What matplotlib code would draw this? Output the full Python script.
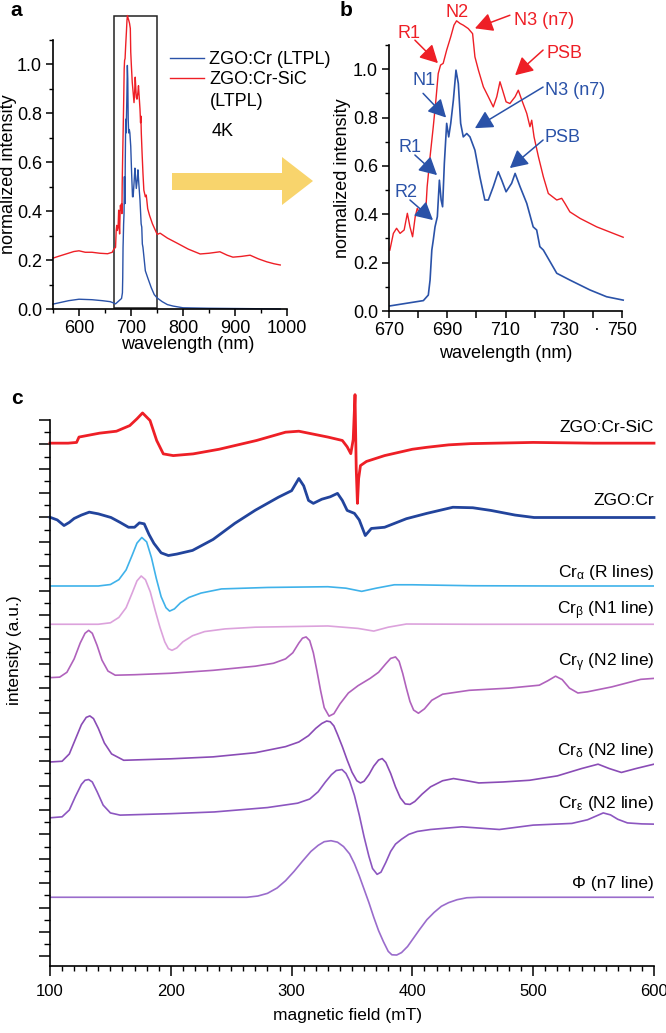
import matplotlib
matplotlib.use("Agg")
import matplotlib.pyplot as plt
from matplotlib.patches import Polygon, Rectangle
from matplotlib.ticker import MultipleLocator, FixedLocator

plt.rcParams['font.family'] = ['Liberation Sans', 'DejaVu Sans']
plt.rcParams['mathtext.fontset'] = 'custom'
plt.rcParams['mathtext.rm'] = 'Liberation Sans'
plt.rcParams['mathtext.it'] = 'Liberation Sans'
plt.rcParams['axes.linewidth'] = 1.2

# ---- panel a / b: low temperature PL spectra (normalized) ----
red_wl = [550, 560, 575, 590, 600, 612, 625, 640, 655, 664, 667,
          670.3, 671.5, 672.6, 673.8, 675.2, 676.3, 677.2, 678.1, 679.0, 679.7, 680.6, 681.8, 682.5,
          683.1, 684.1, 685.2, 686.1, 686.9, 687.7, 688.6, 689.8, 691.2, 692.3, 693.2, 694.4, 695.5,
          697.2, 698.7, 699.5, 700.7, 702.4, 704.1, 705.8, 707.0, 708.1, 709.0, 710.2, 711.5, 713.3,
          714.4, 715.6, 717.3, 718.4, 719.0, 719.8, 721.3, 723.0, 724.7, 726.2, 727.6, 729.3, 730.4,
          732.1, 735.6, 741.3, 747.0, 750.4,
          756, 770, 788, 810, 833, 850, 871, 885, 896, 912, 929, 945, 961, 975, 987]
red_int = [0.208, 0.215, 0.225, 0.235, 0.238, 0.232, 0.232, 0.228, 0.226, 0.232, 0.245,
           0.252, 0.321, 0.342, 0.321, 0.335, 0.404, 0.348, 0.307, 0.390, 0.424, 0.404, 0.431, 0.390,
           0.514, 0.638, 0.762, 0.872, 0.982, 1.017, 1.024, 1.079, 1.134, 1.182, 1.200, 1.189, 1.182,
           1.168, 1.147, 1.051, 0.996, 0.927, 0.886, 0.844, 0.886, 0.948, 0.913, 0.865, 0.858, 0.886,
           0.913, 0.872, 0.817, 0.762, 0.789, 0.720, 0.638, 0.555, 0.486, 0.472, 0.459, 0.466, 0.445,
           0.410, 0.383, 0.348, 0.321, 0.305,
           0.310, 0.290, 0.270, 0.245, 0.225, 0.228, 0.234, 0.220, 0.212, 0.215, 0.220, 0.205, 0.193,
           0.185, 0.180]

blue_wl = [550, 565, 580, 600, 625, 645, 660, 665,
           670.3, 681.8, 683.5, 684.1, 684.7, 685.2, 685.8, 686.6, 687.3, 687.9, 688.4, 689.0, 689.8,
           690.5, 691.2, 692.1, 693.0, 693.8, 694.6, 695.5, 696.7, 697.8, 699.5, 701.2, 702.9, 704.1,
           705.8, 707.5, 708.7, 710.2, 712.1, 713.3, 715.0, 717.3, 719.5, 720.7, 721.8, 723.0, 727.6,
           732.1, 739.0, 744.7, 750.4,
           760, 770, 781, 800, 850, 900, 950, 987]
blue_int = [0.020, 0.027, 0.034, 0.040, 0.038, 0.034, 0.030, 0.026,
            0.021, 0.043, 0.066, 0.128, 0.252, 0.293, 0.348, 0.390, 0.541, 0.459, 0.431, 0.610, 0.776,
            0.720, 0.776, 0.872, 0.996, 0.941, 0.776, 0.720, 0.734, 0.720, 0.665, 0.555, 0.459, 0.459,
            0.514, 0.576, 0.541, 0.493, 0.528, 0.569, 0.514, 0.445, 0.348, 0.335, 0.266, 0.252, 0.156,
            0.128, 0.087, 0.059, 0.045,
            0.030, 0.018, 0.012, 0.005, 0.003, 0.002, 0.001, 0.000]

# ---- panel c: EPR spectra (stacked, arbitrary units) ----
field_sic = [100, 115, 122, 124, 141, 155, 166, 172, 176.6, 182.8, 188.3, 193.8, 202, 218.5, 240, 271,
             295, 306, 318, 330, 342, 346, 349, 351, 352.5, 353.5, 354.5, 355.5, 357, 362, 377, 400,
             412, 430, 448, 500, 550, 600]
epr_sic = [21.05, 21.05, 21.08, 21.3, 21.46, 21.54, 21.77, 22.05, 22.29, 21.98, 21.16, 20.61, 20.54,
           20.61, 20.8, 21.16, 21.5, 21.54, 21.42, 21.3, 21.16, 20.9, 20.62, 21.2, 23.04, 20.0, 18.58,
           19.6, 20.13, 20.3, 20.54, 20.8, 20.88, 20.98, 21.03, 21.08, 21.05, 21.05]

field_cr = [100, 106, 111.6, 116, 120, 126, 132.5, 140, 150.5, 158, 165, 170, 174, 178, 182, 186, 192,
            198, 205, 218, 235, 253, 270, 289, 300, 306, 310, 314, 318, 325, 332, 338, 342, 346, 352,
            356, 361, 366, 377, 395, 412, 433.5, 450, 465, 485, 500.7, 550, 600]
epr_cr = [18.01, 17.9, 17.67, 17.8, 17.96, 18.1, 18.22, 18.15, 18.0, 17.8, 17.6, 17.6, 17.78, 17.74,
          17.3, 16.94, 16.55, 16.44, 16.5, 16.65, 17.1, 17.76, 18.3, 18.83, 19.1, 19.6, 19.3, 18.7,
          18.58, 18.75, 18.85, 18.99, 18.7, 18.29, 18.17, 17.9, 17.26, 17.55, 17.6, 17.95, 18.17,
          18.42, 18.4, 18.29, 18.1, 18.0, 18.0, 18.0]

field_alpha = [100, 140, 150, 157, 163, 168, 172, 176, 180, 184, 188, 192, 196, 199, 203, 208, 215,
               225, 242, 280, 330, 345, 358, 370, 385, 400, 450, 520, 600]
sim_alpha = [15.19, 15.19, 15.25, 15.45, 15.85, 16.45, 16.95, 17.18, 17.0, 16.35, 15.5, 14.75, 14.3,
             14.16, 14.25, 14.5, 14.72, 14.9, 15.07, 15.13, 15.16, 15.1, 14.97, 15.1, 15.24, 15.24,
             15.2, 15.19, 15.19]

field_beta = [100, 140, 150, 157, 163, 168, 172, 175.5, 179, 183, 187, 191, 195, 198, 201, 205, 210,
              218, 228, 245, 270, 330, 355, 368, 380, 395, 450, 600]
sim_beta = [13.62, 13.62, 13.68, 13.9, 14.3, 14.9, 15.4, 15.6, 15.45, 14.95, 14.2, 13.5, 12.9, 12.62,
            12.55, 12.65, 12.9, 13.15, 13.32, 13.43, 13.5, 13.55, 13.45, 13.34, 13.5, 13.63, 13.62,
            13.62]

field_gamma = [100, 108, 114, 120, 125, 129, 132, 135, 139, 143, 148, 154, 170, 200, 235, 270, 285,
               295, 301, 306, 309, 312, 315, 318, 321, 324, 327, 331, 335, 340, 347, 355, 365, 372,
               378, 382, 386, 389, 392, 395, 398, 401, 405, 410, 416, 425, 447, 480, 505, 512, 518.5,
               524, 530, 537, 545, 565, 589, 600]
sim_gamma = [11.43, 11.45, 11.65, 12.2, 12.85, 13.25, 13.37, 13.25, 12.75, 12.15, 11.7, 11.53, 11.55,
             11.61, 11.73, 11.9, 12.02, 12.2, 12.45, 12.85, 13.05, 13.1, 12.95, 12.45, 11.7, 10.9,
             10.2, 9.85, 9.95, 10.35, 10.8, 11.1, 11.4, 11.65, 12.0, 12.22, 12.28, 12.1, 11.6, 11.0,
             10.45, 10.1, 9.97, 10.15, 10.5, 10.75, 10.91, 11.0, 11.12, 11.3, 11.49, 11.35, 11.0,
             10.8, 10.85, 11.05, 11.36, 11.4]

field_delta = [100, 110, 116, 121, 126, 130, 133, 136, 140, 145, 151, 161, 200, 235, 270, 295, 306,
               314, 320, 325, 329, 332, 335, 338, 342, 346, 350, 354, 357, 360, 364, 368, 372, 375,
               378, 382, 386, 390, 394, 398, 402, 408, 415, 425, 434, 445, 455, 475, 497, 520, 540,
               553.7, 563, 573, 585, 600]
sim_delta = [7.97, 8.0, 8.3, 8.9, 9.5, 9.8, 9.86, 9.75, 9.35, 8.75, 8.3, 8.04, 8.1, 8.18, 8.35, 8.6,
             8.79, 9.05, 9.35, 9.55, 9.65, 9.62, 9.45, 9.1, 8.6, 8.05, 7.55, 7.2, 7.11, 7.18, 7.45,
             7.8, 8.05, 8.11, 7.95, 7.5, 6.95, 6.5, 6.25, 6.23, 6.35, 6.65, 6.95, 7.2, 7.29, 7.2, 7.11,
             7.15, 7.22, 7.4, 7.7, 7.88, 7.7, 7.54, 7.7, 7.88]

field_eps = [100, 110, 116, 121, 126, 129, 132, 135, 139, 144, 150, 158, 200, 236, 280, 305, 315, 322,
             328, 333, 337, 341.7, 345, 348, 352, 356, 360, 364, 367, 370.8, 374, 378, 382, 386, 391,
             397, 404, 415, 441, 472, 500, 532, 545, 552, 558, 564, 570, 578, 590, 600]
sim_eps = [5.68, 5.72, 6.0, 6.55, 7.05, 7.22, 7.25, 7.15, 6.75, 6.2, 5.88, 5.79, 5.85, 5.92, 6.1, 6.28,
           6.45, 6.75, 7.15, 7.45, 7.62, 7.66, 7.5, 7.2, 6.6, 5.8, 4.9, 4.1, 3.6, 3.36, 3.45, 3.85,
           4.3, 4.6, 4.8, 5.0, 5.12, 5.2, 5.31, 5.2, 5.38, 5.45, 5.6, 5.75, 5.88, 5.8, 5.62, 5.47,
           5.43, 5.42]

field_phi = [100, 263, 272, 280, 288, 295, 302, 309, 316, 322, 327, 332.6, 338, 343, 348, 352, 356,
             360, 364, 368, 372, 376, 380, 383, 387, 391, 396, 401, 406, 412, 418, 424, 430, 437, 445,
             455, 600]
sim_phi = [2.42, 2.42, 2.47, 2.58, 2.8, 3.1, 3.48, 3.9, 4.3, 4.55, 4.7, 4.74, 4.68, 4.5, 4.2, 3.8, 3.3,
           2.75, 2.2, 1.6, 1.05, 0.6, 0.2, 0.06, 0.05, 0.15, 0.4, 0.75, 1.1, 1.5, 1.8, 2.05, 2.2, 2.32,
           2.4, 2.42, 2.42]

epr_labels = ['ZGO:Cr-SiC', 'ZGO:Cr',
              r'Cr$_{\alpha}$ (R lines)', r'Cr$_{\beta}$ (N1 line)',
              r'Cr$_{\gamma}$ (N2 line)', r'Cr$_{\delta}$ (N2 line)',
              r'Cr$_{\varepsilon}$ (N2 line)', 'Φ (n7 line)']
label_y = [21.69, 18.70, 15.75, 14.19, 12.06, 8.45, 6.28, 3.0]

RED = '#ee1f26'
BLUE = '#2a52a8'

W, H = 666, 1033
fig = plt.figure(figsize=(W / 100, H / 100), dpi=100)


def px_rect(left, top, right, bottom):
    return [left / W, 1 - bottom / H, (right - left) / W, (bottom - top) / H]


def style(ax):
    for s in ['top', 'right']:
        ax.spines[s].set_visible(False)
    ax.tick_params(which='major', direction='out', length=5, width=1.1, labelsize=13, pad=3)
    ax.tick_params(which='minor', direction='out', length=3, width=1.0)


# ---------------- panel a ----------------
ax_a = fig.add_axes(px_rect(53, 40, 287, 309))
style(ax_a)
ax_a.plot(blue_wl, blue_int, color=BLUE, lw=1.0, label='ZGO:Cr (LTPL)', clip_on=False)
ax_a.plot(red_wl, red_int, color=RED, lw=1.0, label='ZGO:Cr-SiC', clip_on=False)
ax_a.set_xlim(550, 1000)
ax_a.set_ylim(0, 1.1)
ax_a.xaxis.set_major_locator(MultipleLocator(100))
ax_a.xaxis.set_minor_locator(MultipleLocator(50))
ax_a.yaxis.set_major_locator(MultipleLocator(0.2))
ax_a.yaxis.set_minor_locator(MultipleLocator(0.1))
ax_a.yaxis.set_major_formatter('{x:.1f}')
ax_a.set_xlabel('wavelength (nm)', fontsize=13)
ax_a.set_ylabel('normalized intensity', fontsize=13)
ax_a.xaxis.set_label_coords(0.577, -0.132)
ax_a.xaxis.label.set_va('center')
ax_a.yaxis.set_label_coords(-0.192, 0.5)
ax_a.yaxis.label.set_va('center')
ax_a.add_patch(Rectangle((667, 0.005), 83, 1.195, fill=False, ec='#222222', lw=1.1, clip_on=False))
leg = ax_a.legend(loc='upper left', bbox_to_anchor=(0.47, 0.985), frameon=False, fontsize=13,
                  handlelength=1.85, handletextpad=0.3, labelspacing=0.15, borderaxespad=0)
ax_a.text(0.671, 0.77, '(LTPL)', transform=ax_a.transAxes, fontsize=13, va='center')
ax_a.text(0.68, 0.66, '4K', transform=ax_a.transAxes, fontsize=13, va='center')

# yellow arrow between panels (pixel outline)
arrow_px = [(172, 173), (282, 173), (282, 157), (313, 181), (282, 205), (282, 190), (172, 190)]
fig.patches.append(Polygon([(x / W, 1 - y / H) for x, y in arrow_px], closed=True,
                           fc='#f8d46c', ec='none', transform=fig.transFigure, figure=fig))

# ---------------- panel b ----------------
ax_b = fig.add_axes(px_rect(389, 45, 622, 311))
style(ax_b)
b_red = [(w, v) for w, v in zip(red_wl, red_int) if 670 <= w <= 751]
b_blue = [(w, v) for w, v in zip(blue_wl, blue_int) if 670 <= w <= 751]
ax_b.plot([p[0] for p in b_red], [p[1] for p in b_red], color=RED, lw=1.0, clip_on=False)
ax_b.plot([p[0] for p in b_blue], [p[1] for p in b_blue], color=BLUE, lw=1.2, clip_on=False)
ax_b.set_xlim(670, 750)
ax_b.set_ylim(0, 1.1)
ax_b.xaxis.set_major_locator(FixedLocator([670, 690, 710, 730, 750]))
ax_b.xaxis.set_minor_locator(FixedLocator([680, 700, 720, 740]))
ax_b.yaxis.set_major_locator(MultipleLocator(0.2))
ax_b.yaxis.set_minor_locator(MultipleLocator(0.1))
ax_b.yaxis.set_major_formatter('{x:.1f}')
ax_b.tick_params(axis='x', which='minor', length=5, width=1.1)
ax_b.set_xlabel('wavelength (nm)', fontsize=13)
ax_b.set_ylabel('normalized intensity', fontsize=13)
ax_b.xaxis.set_label_coords(0.50, -0.16)
ax_b.xaxis.label.set_va('center')
ax_b.yaxis.set_label_coords(-0.2, 0.5)
ax_b.yaxis.label.set_va('center')
ax_b.text(741.5, -0.075, '·', fontsize=13, ha='center', va='center', clip_on=False)

# peak annotations: (text, text pos, arrow tail, arrow tip, color)
notes_b = [
    ('R1', (676.9, 1.149), (678.9, 1.12), (686.8, 1.025), RED),
    ('N2', (693.3, 1.235), None, None, RED),
    ('N3 (n7)', (723.2, 1.20), (711.5, 1.223), (699.5, 1.169), RED),
    ('PSB', (730.1, 1.066), (722.9, 1.079), (713.3, 0.975), RED),
    ('N1', (682.0, 0.955), (681.7, 0.90), (689.6, 0.80), BLUE),
    ('N3 (n7)', (733.9, 0.913), (722.9, 0.926), (699.5, 0.756), BLUE),
    ('R1', (677.2, 0.678), (678.9, 0.645), (686.5, 0.562), BLUE),
    ('PSB', (729.7, 0.719), (722.9, 0.707), (711.5, 0.591), BLUE),
    ('R2', (675.8, 0.488), (677.2, 0.459), (685.1, 0.376), BLUE),
]
for txt, tpos, tail, tip, col in notes_b:
    ax_b.text(tpos[0], tpos[1], txt, color=col, fontsize=13, ha='center', va='center', clip_on=False)
    if tail is not None:
        ax_b.annotate('', xy=tip, xytext=tail, annotation_clip=False,
                      arrowprops=dict(arrowstyle='-|>,head_length=0.6,head_width=0.32', color=col,
                                      lw=1.1, mutation_scale=18, shrinkA=0, shrinkB=0))

# ---------------- panel c ----------------
ax_c = fig.add_axes(px_rect(50, 420, 654, 966))
style(ax_c)
ax_c.plot(field_sic, epr_sic, color=RED, lw=2.0, clip_on=False)
ax_c.plot(field_cr, epr_cr, color='#22449c', lw=2.0, clip_on=False)
ax_c.plot(field_alpha, sim_alpha, color='#3fb2ea', lw=1.2)
ax_c.plot(field_beta, sim_beta, color='#dca2dc', lw=1.2)
ax_c.plot(field_gamma, sim_gamma, color='#b062bc', lw=1.2)
ax_c.plot(field_delta, sim_delta, color='#8a4cb6', lw=1.2)
ax_c.plot(field_eps, sim_eps, color='#8c56c0', lw=1.2)
ax_c.plot(field_phi, sim_phi, color='#9a6ccc', lw=1.2)
ax_c.set_xlim(100, 600)
ax_c.set_ylim(-0.4, 22)
ax_c.xaxis.set_major_locator(MultipleLocator(100))
ax_c.xaxis.set_minor_locator(MultipleLocator(10))
ax_c.yaxis.set_major_locator(MultipleLocator(1))
ax_c.yaxis.set_minor_locator(MultipleLocator(0.5))
ax_c.tick_params(axis='y', which='major', length=8, labelleft=False)
ax_c.tick_params(axis='y', which='minor', length=4)
ax_c.tick_params(axis='x', which='major', length=7, labelsize=12, pad=6)
ax_c.tick_params(axis='x', which='minor', length=3.5)
ax_c.set_xlabel('magnetic field (mT)', fontsize=12.5)
ax_c.set_ylabel('intensity (a.u.)', fontsize=12.5)
ax_c.xaxis.set_label_coords(0.493, -0.09)
ax_c.xaxis.label.set_va('center')
ax_c.yaxis.set_label_coords(-0.058, 0.579)
ax_c.yaxis.label.set_va('center')
for txt, yv in zip(epr_labels, label_y):
    ax_c.text(600, yv, txt, ha='right', va='center', fontsize=12.5)

# panel letters
fig.text(16 / W, 1 - 10 / H, 'a', fontsize=15, fontweight='bold', ha='center', va='center')
fig.text(346 / W, 1 - 11 / H, 'b', fontsize=15, fontweight='bold', ha='center', va='center')
fig.text(17 / W, 1 - 399 / H, 'c', fontsize=15, fontweight='bold', ha='center', va='center')

fig.savefig('out.png', dpi=100)
